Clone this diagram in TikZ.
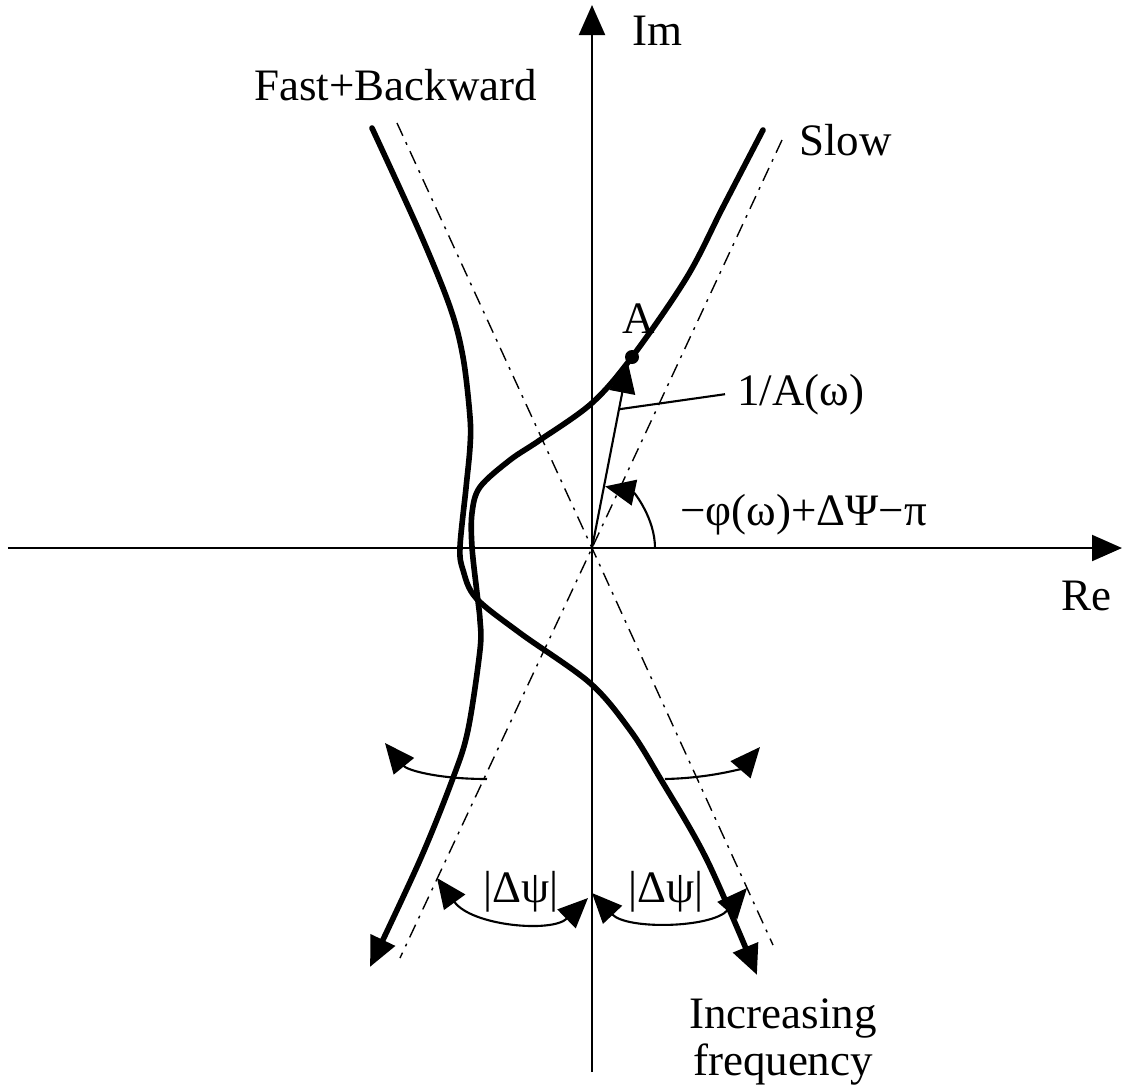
\documentclass[tikz,border=0pt]{standalone}
\usepackage{fontspec}
\setmainfont{Liberation Serif}
\usetikzlibrary{arrows.meta,calc,positioning}

\begin{document}
\begin{tikzpicture}[>={Triangle[length=0.3cm,width=0.26cm]}, scale=1.0,
    font=\fontsize{12.8}{13.5}\selectfont,
    axis/.style={line width=0.6pt},
    locus/.style={line width=1.6pt, line cap=round, line join=round},
    asym/.style={line width=0.4pt, dash pattern=on 4pt off 2pt on 0.8pt off 2pt},
    arcline/.style={line width=0.6pt}]
  \useasboundingbox (-5.92,-5.42) rectangle (5.34,5.48);
  \coordinate (O) at (0,0);
  % axes
  \draw[axis,->] (-5.84,0) -- (5.30,0) coordinate (reend);
  \draw[axis,->] (0,-5.24) -- (0,5.43) coordinate (imend);
  \node[anchor=base west] (im) at (0.28,5.03) {Im};
  \node[anchor=base east] (re) at (5.32,-0.62) {Re};
  % asymptotes through the origin
  \draw[asym] (-1.95,4.25) -- (O) -- (1.81,-3.97);
  \draw[asym] (1.90,4.08) -- (O) -- (-1.92,-4.10);
  % fast+backward locus
  \draw[locus,->] plot[smooth,tension=0.55] coordinates {(-2.20,4.20) (-1.72,3.15)
    (-1.42,2.41) (-1.29,1.91) (-1.22,1.31) (-1.22,1.01) (-1.26,0.60) (-1.32,0.01)
    (-1.29,-0.22) (-1.16,-0.50) (-0.72,-0.85) (-0.02,-1.35) (0.38,-1.82) (0.68,-2.30)
    (1.15,-3.12) (1.65,-4.27)};
  % slow locus
  \coordinate (A) at (0.40,1.91);
  \draw[locus,->] plot[smooth,tension=0.55] coordinates {(1.71,4.18) (1.31,3.41)
    (0.95,2.71) (0.40,1.91) (0,1.45) (-0.52,1.08) (-0.82,0.88) (-1.12,0.61)
    (-1.20,0.35) (-1.20,0.01) (-1.15,-0.45) (-1.12,-0.72) (-1.12,-1.02) (-1.24,-1.82)
    (-1.39,-2.30) (-1.72,-3.12) (-2.22,-4.19)};
  \node[anchor=base west] (slow) at (1.95,3.93) {Slow};
  \node[anchor=base west] (fast) at (-3.50,4.48) {Fast+Backward};
  % point A and the vector 1/A
  \fill (A) circle (0.07);
  \node[anchor=base west] (alabel) at (0.18,2.15) {A};
  \draw[arcline,->] (O) -- (0.36,1.85) coordinate (Ainv);
  \node[anchor=base west] (invlbl) at (1.33,1.43) {1/A(ω)};
  \draw[arcline] ($(O)!0.75!(Ainv)$) -- (invlbl.west);
  % phase angle
  \draw[arcline,->] (0.63,0) arc[start angle=0,end angle=78,radius=0.63];
  \node[anchor=base west] (phase) at (0.76,0.23) {−φ(ω)+ΔΨ−π};
  % rotation of the asymptotes
  \draw[arcline,->] (-1.05,-2.31) .. controls (-1.55,-2.31) and (-1.85,-2.22) .. (-2.07,-1.95);
  \draw[arcline,->] (0.73,-2.31) .. controls (1.20,-2.30) and (1.50,-2.20) .. (1.68,-1.99);
  \draw[arcline,<->] (-1.55,-3.30) .. controls (-1.20,-3.78) and (-0.40,-3.85) .. (-0.04,-3.50);
  \draw[arcline,<->] (0.00,-3.45) .. controls (0.35,-3.82) and (1.20,-3.80) .. (1.55,-3.40);
  \node (dpsil) at (-0.71,-3.44) {|Δψ|};
  \node (dpsir) at (0.74,-3.44) {|Δψ|};
  \node[align=center] (incr) at (1.91,-4.94) {Increasing\\frequency};
\end{tikzpicture}
\end{document}
